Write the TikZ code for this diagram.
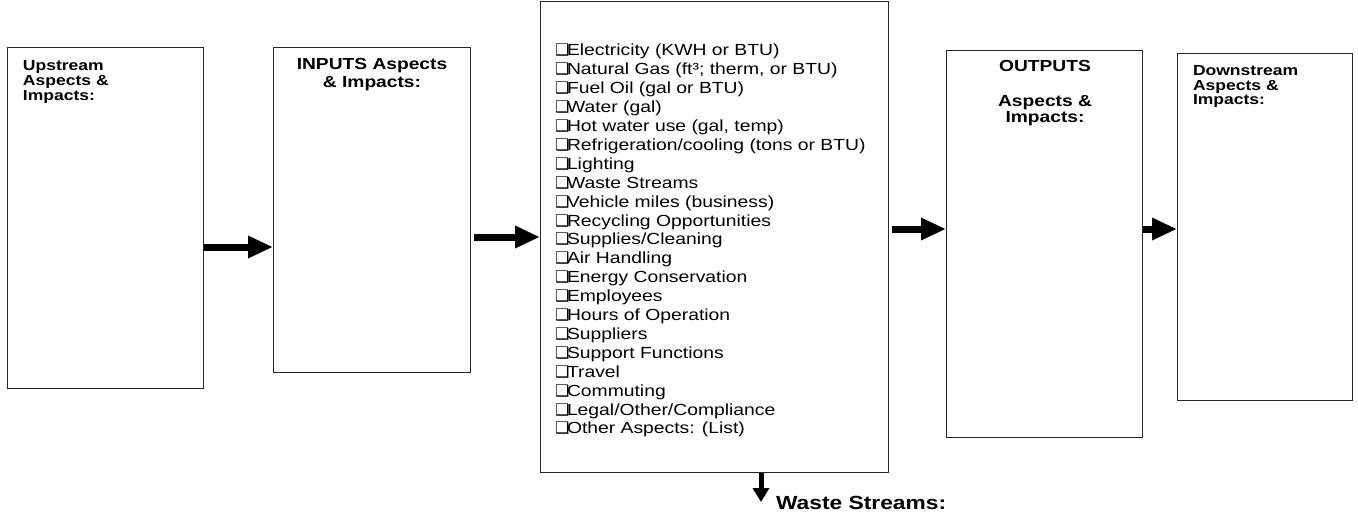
\documentclass[tikz,border=0pt]{standalone}
\usepackage{fontspec}
\setmainfont{Liberation Sans}
\newfontfamily\arx[FakeStretch=1.2]{Liberation Sans}
\newfontfamily\djv{DejaVu Sans}
\usetikzlibrary{arrows.meta}
\newcommand\cbx{\makebox[12pt][l]{\djv\fontsize{16}{16}\selectfont ❑}}
\begin{document}
\begin{tikzpicture}[x=1pt,y=-1pt,
  bx/.style={draw=black!85, line width=1.3pt, fill=none, inner sep=0pt, anchor=north west},
  tx/.style={inner sep=0pt, outer sep=0pt},
  fat/.style={line width=7pt, -{Triangle[length=25pt,width=21pt]}},
  smallhd/.style={font=\arx\bfseries\fontsize{14.6}{15}\selectfont},
  bighd/.style={font=\arx\bfseries\fontsize{16}{18}\selectfont},
  listf/.style={font=\arx\fontsize{16.1}{18.9}\selectfont},
]
\useasboundingbox (0,0) rectangle (1358,516);
% boxes
\node[bx, minimum width=196pt, minimum height=341pt] (b1) at (7,47) {};
\node[bx, minimum width=197pt, minimum height=325pt] (b2) at (273,47) {};
\node[bx, minimum width=348pt, minimum height=471.3pt] (b3) at (540,0.7) {};
\node[bx, minimum width=196pt, minimum height=387pt] (b4) at (946,50) {};
\node[bx, minimum width=175pt, minimum height=347pt] (b5) at (1177,53) {};
% headings
\node[tx, anchor=base west, smallhd] (t1) at (23,71)
  {\begin{tabular}[t]{@{}l@{}}Upstream\\Aspects \&\\Impacts:\end{tabular}};
\node[tx, anchor=base, bighd] (t2) at (372,70)
  {\begin{tabular}[t]{@{}c@{}}INPUTS Aspects\\\& Impacts:\end{tabular}};
\node[tx, anchor=base, bighd] (t4a) at (1045,72) {OUTPUTS};
\node[tx, anchor=base, font=\arx\bfseries\fontsize{16}{16}\selectfont] (t4b) at (1045,107)
  {\begin{tabular}[t]{@{}c@{}}Aspects \&\\Impacts:\end{tabular}};
\node[tx, anchor=base west, font=\arx\bfseries\fontsize{14.6}{14.5}\selectfont] (t5) at (1193,76)
  {\begin{tabular}[t]{@{}l@{}}Downstream\\Aspects \&\\Impacts:\end{tabular}};
% list
\node[tx, anchor=base west, listf] (lst) at (555,56)
  {\begin{tabular}[t]{@{}l@{}}
  \cbx Electricity (KWH or BTU)\\
  \cbx Natural Gas (ft³; therm, or BTU)\\
  \cbx Fuel Oil (gal or BTU)\\
  \cbx Water (gal)\\
  \cbx Hot water use (gal, temp)\\
  \cbx Refrigeration/cooling (tons or BTU)\\
  \cbx Lighting\\
  \cbx Waste Streams\\
  \cbx Vehicle miles (business)\\
  \cbx Recycling Opportunities\\
  \cbx Supplies/Cleaning\\
  \cbx Air Handling\\
  \cbx Energy Conservation\\
  \cbx Employees\\
  \cbx Hours of Operation\\
  \cbx Suppliers\\
  \cbx Support Functions\\
  \cbx Travel\\
  \cbx Commuting\\
  \cbx Legal/Other/Compliance\\
  \cbx Other Aspects: (List)
  \end{tabular}};
% arrows
\draw[fat] (b1.east |- 0,247) -- (b2.west |- 0,247);
\draw[fat, shorten <=3pt] (b2.east |- 0,237) -- (b3.west |- 0,237);
\draw[fat, shorten <=3pt] (b3.east |- 0,229) -- (b4.west |- 0,229);
\draw[fat] (b4.east |- 0,229) -- (b5.west |- 0,229);
\coordinate (wsend) at (761,502);
\draw[line width=5pt, -{Triangle[length=14pt,width=16pt]}] (b3.south -| wsend) -- (wsend);
\node[tx, anchor=base west, font=\arx\bfseries\fontsize{19}{20}\selectfont] (ws) at (776,509) {Waste Streams:};
\end{tikzpicture}
\end{document}
